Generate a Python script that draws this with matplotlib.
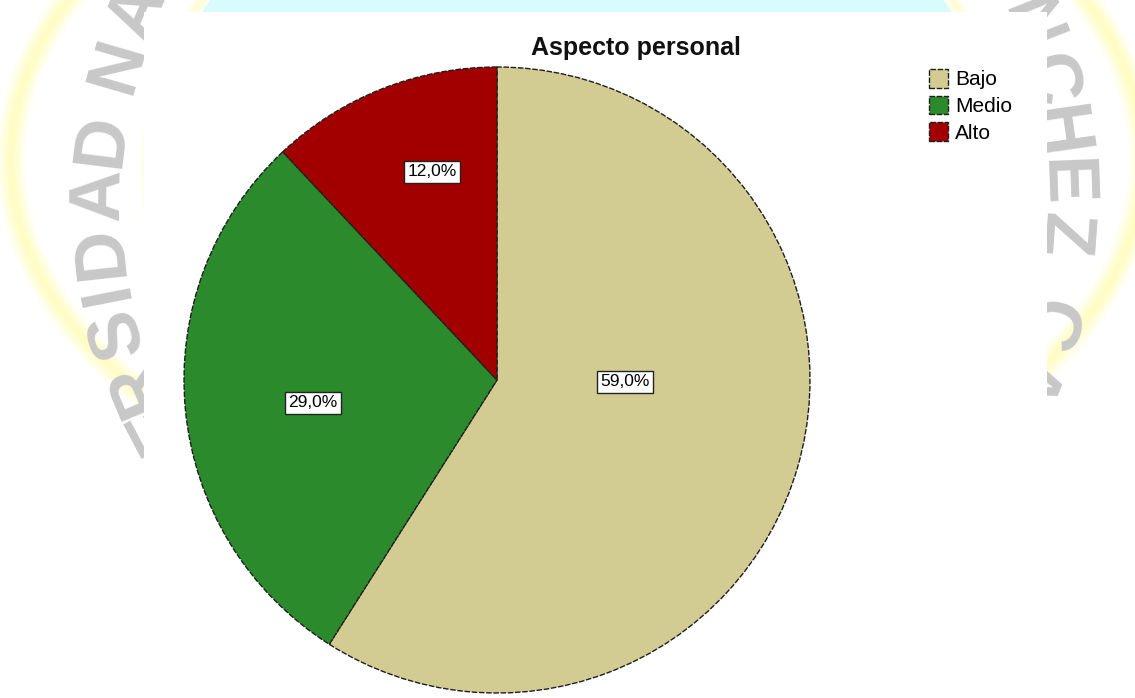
import numpy as np
import matplotlib
matplotlib.use("Agg")
import matplotlib.pyplot as plt
from matplotlib.patches import Ellipse, Rectangle

# ---- data -------------------------------------------------------------
categories = ["Bajo", "Medio", "Alto"]
percentages = [59.0, 29.0, 12.0]
slice_colors = ["#D3CC92", "#2B8A2B", "#A20000"]
title_text = "Aspecto personal"

# ---- layout (figure pixels, origin top-left) -------------------------
W, H = 1135, 698
PIE_CX, PIE_CY, PIE_R = 497, 380, 313
PANEL = (144, 12, 1047, 698)                      # white chart area
# label positions in pie units (centre = 0,0; radius = 1)
label_xy = [(0.409, -0.006), (-0.588, -0.073), (-0.208, 0.665)]

plt.rcParams["font.family"] = ["Liberation Sans", "DejaVu Sans"]

fig = plt.figure(figsize=(W / 100, H / 100), dpi=100)
fig.patch.set_facecolor("white")

# ---- background seal --------------------------------------------------
bg = fig.add_axes([0, 0, 1, 1])
bg.set_xlim(0, W)
bg.set_ylim(H, 0)
bg.axis("off")

# inner light-cyan disc with a faint yellow rim
bg.add_patch(Ellipse((577, 170), 2 * 430, 2 * 348, facecolor="#D8FCFD",
                     edgecolor="none", zorder=1))
for lw, col in [(10, "#FFFFF0"), (5, "#FFFCD6")]:
    bg.add_patch(Ellipse((577, 170), 2 * 430, 2 * 348, fill=False,
                         edgecolor=col, lw=lw, zorder=2))

# outer pale yellow ring (soft edges)
for lw, col in [(20, "#FFFFF2"), (15, "#FFFEE2"), (10, "#FFFDD2"),
                (5, "#FFFCC6")]:
    bg.add_patch(Ellipse((577, 160), 2 * 566, 2 * 365, fill=False,
                         edgecolor=col, lw=lw, zorder=2))

# lettering around the seal
LCX, LCY, LA, LB = 581, 200, 482, 480
left_letters = [("E", 423), ("R", 385), ("S", 332), ("I", 292), ("D", 252),
                ("A", 195), ("D", 141), ("N", 66), ("A", 12)]
right_letters = [("Á", -32), ("N", 25), ("C", 82), ("H", 132), ("E", 182),
                 ("Z", 235), ("C", 325), ("A", 378)]


def place(ch, y, side):
    s = np.clip((y - LCY) / LB, -1, 1)
    c = np.sqrt(1 - s ** 2) * (-1 if side == "left" else 1)
    x = LCX + LA * c
    # outward normal in display orientation (y up)
    nx, ny = c / LA, -s / LB
    n = np.hypot(nx, ny)
    ux, uy = nx / n, ny / n
    rot = np.degrees(np.arctan2(-ux, uy))
    bg.text(x, y, ch, fontsize=52, fontweight="bold", color="#C8C8C8",
            ha="center", va="center", rotation=rot, rotation_mode="anchor",
            zorder=3)


for ch, y in left_letters:
    place(ch, y, "left")
for ch, y in right_letters:
    place(ch, y, "right")

# white chart panel
x0, y0, x1, y1 = PANEL
bg.add_patch(Rectangle((x0, y0), x1 - x0, y1 - y0, facecolor="white",
                       edgecolor="none", zorder=5))

# ---- pie --------------------------------------------------------------
ax = fig.add_axes([(PIE_CX - PIE_R) / W, (H - PIE_CY - PIE_R) / H,
                   2 * PIE_R / W, 2 * PIE_R / H])
ax.set_facecolor("none")
wedges, _ = ax.pie(percentages, colors=slice_colors, startangle=90,
                   counterclock=False, radius=1,
                   wedgeprops=dict(edgecolor="#1E1E1E", linewidth=1.0,
                                   linestyle=(0, (4, 1.2))))
for w in wedges:
    w.set_clip_on(False)
ax.set_xlim(-1, 1)
ax.set_ylim(-1, 1)
ax.set_aspect("equal")
ax.axis("off")

for v, (lx, ly) in zip(percentages, label_xy):
    ax.text(lx, ly, f"{v:.1f}%".replace(".", ","), ha="center", va="center",
            fontsize=12.5, color="black",
            bbox=dict(boxstyle="square,pad=0.2", facecolor="white",
                      edgecolor="#222222", linewidth=1.0))

fig.text(636 / W, 1 - 55 / H, title_text, ha="center", va="baseline",
         fontsize=18, fontweight="bold", color="#111111")

ax.legend(wedges, categories, loc="upper left",
          bbox_to_anchor=(929 / W, 1 - 69 / H), bbox_transform=fig.transFigure,
          frameon=False, fontsize=15, handlelength=0.9, handleheight=1.0,
          handletextpad=0.35, labelspacing=0.3, borderpad=0,
          borderaxespad=0)

fig.savefig("out.png", dpi=100)
